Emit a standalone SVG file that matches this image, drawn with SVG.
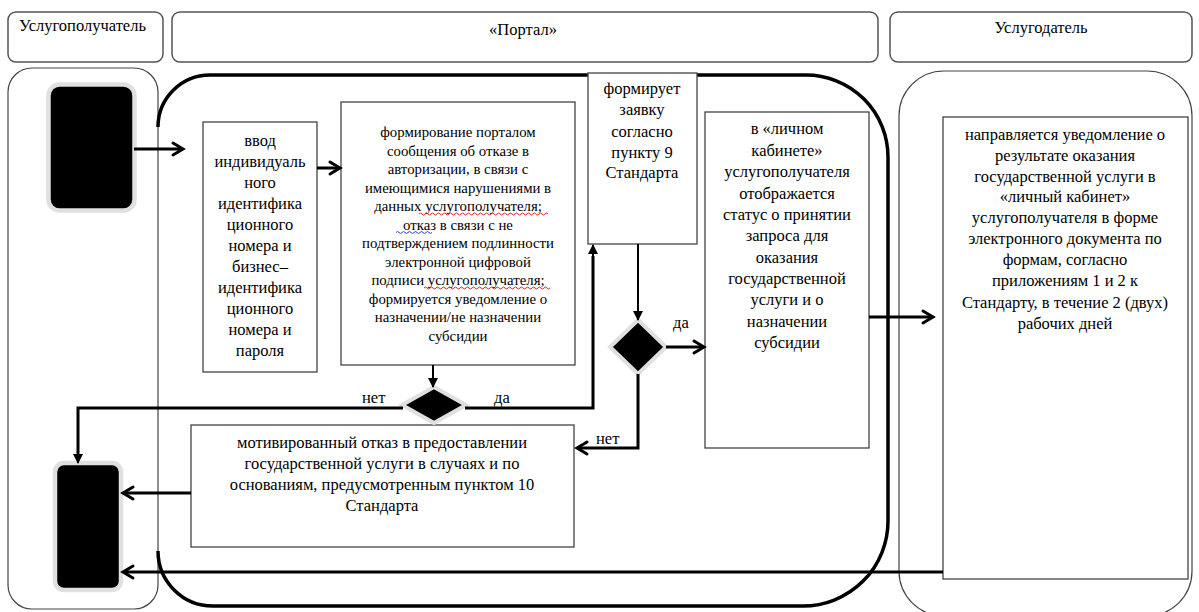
<svg xmlns="http://www.w3.org/2000/svg" width="1199" height="612" viewBox="0 0 1199 612">
<style>
text{font-family:"Liberation Serif","Times New Roman",serif;font-size:16.5px;fill:#000}
.c{text-anchor:middle}
.sm{font-size:14.8px}
.hdr{fill:#fff;stroke:#555;stroke-width:1.5}
.lane{fill:none;stroke:#444;stroke-width:1.2}
.box{fill:#fff;stroke:#444;stroke-width:1.3}
.term{fill:#000;stroke:#e0e0e0;stroke-width:4.5}
.dia{fill:#000;stroke:#e0e0e0;stroke-width:4}
.ln{fill:none;stroke:#000;stroke-width:3}
.thin{fill:none;stroke:#000;stroke-width:2}
.wr{fill:none;stroke:#d22;stroke-width:1}
.wb{fill:none;stroke:#24c;stroke-width:1}
</style>
<defs>
<marker id="ch" markerUnits="userSpaceOnUse" markerWidth="16" markerHeight="16" refX="13" refY="8" orient="auto" overflow="visible">
<path d="M3,2 L13,8 L3,14" fill="none" stroke="#000" stroke-width="3" stroke-linecap="round" stroke-linejoin="miter"/>
</marker>
<marker id="tr" markerUnits="userSpaceOnUse" markerWidth="10" markerHeight="10" refX="9" refY="5" orient="auto" overflow="visible">
<path d="M0,0 L10,5 L0,10 Z" fill="#000"/>
</marker>
</defs>

<g id="header-recipient"><rect class="hdr" x="8" y="12" width="155" height="50" rx="8"/><text x="19" y="31">Услугополучатель</text></g>
<g id="header-portal"><rect class="hdr" x="172" y="12" width="706" height="50" rx="8"/><text class="c" x="523" y="35">«Портал»</text></g>
<g id="header-provider"><rect class="hdr" x="890" y="12" width="302" height="50" rx="8"/><text class="c" x="1041" y="33">Услугодатель</text></g>

<g id="lane-recipient"><rect class="lane" x="8" y="68" width="150" height="541" rx="24"/></g>
<g id="lane-provider"><rect class="lane" x="899" y="71" width="293" height="545" rx="45"/></g>
<g id="lane-portal"><path d="M158,127 A52,52 0 0 1 210,75 L806,75 A82,82 0 0 1 888,157 L888,521 A85,85 0 0 1 803,606 L213,606 A55,55 0 0 1 158,551" fill="none" stroke="#000" stroke-width="3.5"/></g>

<g id="start"><rect class="term" x="48.5" y="84.5" width="86" height="126" rx="11"/></g>
<g id="end"><rect class="term" x="55" y="463" width="66" height="127" rx="9"/></g>

<g id="box-login"><rect class="box" x="203" y="122" width="114" height="250"/>
<text class="c"><tspan x="260" y="145.5">ввод</tspan><tspan x="260" y="166.5">индивидуаль</tspan><tspan x="260" y="187.5">ного</tspan><tspan x="260" y="208.5">идентифика</tspan><tspan x="260" y="229.5">ционного</tspan><tspan x="260" y="250.5">номера и</tspan><tspan x="260" y="271.5">бизнес–</tspan><tspan x="260" y="292.5">идентифика</tspan><tspan x="260" y="313.5">ционного</tspan><tspan x="260" y="334.5">номера и</tspan><tspan x="260" y="355.5">пароля</tspan></text></g>

<g id="box-refusal-auth"><rect class="box" x="341" y="102" width="234" height="263"/>
<text class="c sm"><tspan x="458" y="137">формирование порталом</tspan><tspan x="458" y="155.5">сообщения об отказе  в</tspan><tspan x="458" y="174">авторизации, в связи с</tspan><tspan x="458" y="192.5">имеющимися нарушениями в</tspan><tspan x="458" y="211">данных услугополучателя;</tspan><tspan x="458" y="229.5">отказ в связи с не</tspan><tspan x="458" y="248">подтверждением подлинности</tspan><tspan x="458" y="266.5">электронной цифровой</tspan><tspan x="458" y="285">подписи услугополучателя;</tspan><tspan x="458" y="303.5">формируется уведомление о</tspan><tspan x="458" y="322">назначении/не назначении</tspan><tspan x="458" y="340.5">субсидии</tspan></text>
<path class="wr" d="M419,214 q1.5,-2 3,0 t3,0 t3,0 t3,0 t3,0 t3,0 t3,0 t3,0 t3,0 t3,0 t3,0 t3,0 t3,0 t3,0 t3,0 t3,0 t3,0 t3,0 t3,0 t3,0 t3,0 t3,0 t3,0 t3,0 t3,0 t3,0 t3,0 t3,0 t3,0 t3,0 t3,0 t3,0 t3,0 t3,0 t3,0 t3,0 t3,0 t3,0 t3,0 t3,0 t3,0 t3,0 t3,0"/>
<path class="wb" d="M396,232.5 q1.5,-2 3,0 t3,0 t3,0 t3,0 t3,0 t3,0 t3,0 t3,0 t3,0 t3,0 t3,0 t3,0"/>
<path class="wr" d="M424,288 q1.5,-2 3,0 t3,0 t3,0 t3,0 t3,0 t3,0 t3,0 t3,0 t3,0 t3,0 t3,0 t3,0 t3,0 t3,0 t3,0 t3,0 t3,0 t3,0 t3,0 t3,0 t3,0 t3,0 t3,0 t3,0 t3,0 t3,0 t3,0 t3,0 t3,0 t3,0 t3,0 t3,0 t3,0 t3,0 t3,0 t3,0 t3,0 t3,0 t3,0 t3,0 t3,0 t3,0"/>
</g>

<g id="box-request"><rect class="box" x="588" y="73" width="109" height="171"/>
<text class="c"><tspan x="642" y="93.5">формирует</tspan><tspan x="642" y="114.5">заявку</tspan><tspan x="642" y="136.5">согласно</tspan><tspan x="642" y="157.5">пункту 9</tspan><tspan x="642" y="177.5">Стандарта</tspan></text></g>

<g id="box-status"><rect class="box" x="705" y="112" width="164" height="336"/>
<text class="c"><tspan x="787" y="133.5">в «личном</tspan><tspan x="787" y="155.5">кабинете»</tspan><tspan x="787" y="176.5">услугополучателя</tspan><tspan x="787" y="198.5">отображается</tspan><tspan x="787" y="219.5">статус о принятии</tspan><tspan x="787" y="240.5">запроса для</tspan><tspan x="787" y="262.5">оказания</tspan><tspan x="787" y="283.5">государственной</tspan><tspan x="787" y="304.5">услуги и о</tspan><tspan x="787" y="326.5">назначении</tspan><tspan x="787" y="347.5">субсидии</tspan></text></g>

<g id="box-notify"><rect class="box" x="943" y="117" width="245" height="462"/>
<text class="c"><tspan x="1065" y="139.5">направляется уведомление о</tspan><tspan x="1065" y="160.5">результате оказания</tspan><tspan x="1065" y="181.5">государственной услуги в</tspan><tspan x="1065" y="201.5">«личный кабинет»</tspan><tspan x="1065" y="222.5">услугополучателя в форме</tspan><tspan x="1065" y="243.5">электронного документа по</tspan><tspan x="1065" y="264.5">формам, согласно</tspan><tspan x="1065" y="285.5">приложениям 1 и 2 к</tspan><tspan x="1065" y="307.5">Стандарту, в течение 2 (двух)</tspan><tspan x="1065" y="328.5">рабочих дней</tspan></text></g>

<g id="box-refusal"><rect class="box" x="191" y="425" width="383" height="122"/>
<text class="c"><tspan x="382" y="447.5">мотивированный отказ в предоставлении</tspan><tspan x="382" y="468.5">государственной услуги в случаях и по</tspan><tspan x="382" y="489.5">основаниям, предусмотренным пунктом 10</tspan><tspan x="382" y="510.5">Стандарта</tspan></text></g>

<g id="decision-1"><polygon class="dia" points="434,387 466,405 434,423 402,405"/></g>
<g id="decision-2"><polygon class="dia" points="638,320 666,347 638,374 610,347"/></g>

<g id="connectors">
<line class="ln" x1="134" y1="149" x2="183" y2="149" marker-end="url(#ch)"/>
<line class="ln" x1="317" y1="168" x2="340" y2="168" marker-end="url(#ch)"/>
<line class="thin" x1="433" y1="365" x2="433" y2="387" marker-end="url(#tr)"/>
<polyline class="ln" points="403,408 78,408 78,455"/>
<line class="thin" x1="78" y1="452" x2="78" y2="463" marker-end="url(#tr)"/>
<polyline class="ln" points="465,408 593,408 593,256"/>
<line class="thin" x1="593" y1="258" x2="593" y2="245" marker-end="url(#tr)"/>
<line class="thin" x1="638" y1="244" x2="638" y2="320" marker-end="url(#tr)"/>
<line class="ln" x1="666" y1="347" x2="704" y2="347" marker-end="url(#ch)"/>
<polyline class="ln" points="638,374 638,448 577,448" marker-end="url(#ch)"/>
<line class="ln" x1="869" y1="317" x2="933" y2="317" marker-end="url(#ch)"/>
<line class="ln" x1="191" y1="493" x2="123" y2="493" marker-end="url(#ch)"/>
<line class="ln" x1="943" y1="572" x2="123" y2="572" marker-end="url(#ch)"/>
<text x="362" y="403">нет</text>
<text x="494" y="403">да</text>
<text x="673" y="328">да</text>
<text x="596" y="444">нет</text>
</g>
</svg>
